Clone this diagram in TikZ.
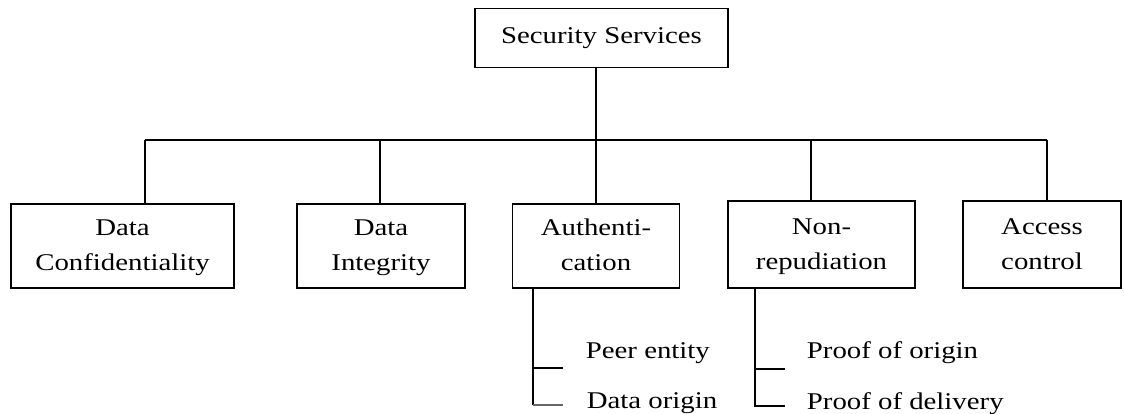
\documentclass[tikz,border=0pt]{standalone}
\usepackage{fontspec}
\setmainfont{Liberation Serif}[FakeStretch=1.2]
\begin{document}
\begin{tikzpicture}[x=1pt,y=-1pt,
  line width=1.8pt,
  every node/.style={font=\fontsize{24}{35}\selectfont, inner sep=0pt},
  svcbox/.style={draw, line width=1.8pt, align=center, minimum height=84pt},
  leaf/.style={anchor=base west}]
\useasboundingbox (0,0) rectangle (1124,414);

% root
\node[svcbox, minimum width=253pt, minimum height=59pt] (top) at (601.5,38) {Security Services};

% service boxes (struts keep the two text lines on the same baselines)
\node[svcbox, minimum width=223pt] (conf) at (122.5,246) {\strut Data\\\strut Confidentiality};
\node[svcbox, minimum width=168pt] (integ) at (381,246) {\strut Data\\\strut Integrity};
\node[svcbox, minimum width=167pt] (auth) at (596,246) {\strut Authenti-\\\strut cation};
\node[svcbox, minimum width=187pt, minimum height=87pt] (nonrep) at (821.5,244.5) {\strut Non-\\\strut repudiation};
\node[svcbox, minimum width=158pt, minimum height=87pt] (access) at (1042,244.5) {\strut Access\\\strut control};

% bus
\coordinate (busL) at (145,140);
\coordinate (busR) at (1047,140);
\draw (busL) -- (busR);
\draw (top.south -| auth.north) -- (auth.north);
\draw (busL) -- (busL |- conf.north);
\draw (380,140) -- (380,140 |- integ.north);
\draw (811,140) -- (811,140 |- nonrep.north);
\draw (busR) -- (busR |- access.north);

% authentication variants
\node[leaf] (peer) at (585,358) {Peer entity};
\node[leaf] (dorig) at (586,408) {Data origin};
\coordinate (a0) at (533,288);
\coordinate (a1) at (533,368);
\coordinate (a2) at (533,405);
\draw (a0) -- (a2);
\draw (a1) -- (563,368);
\draw[black!60, line width=1.2pt] (a2) -- (563,405);

% non-repudiation variants
\node[leaf] (porig) at (806,358) {Proof of origin};
\node[leaf] (pdel) at (806,409) {Proof of delivery};
\coordinate (n0) at (755,288);
\coordinate (n1) at (755,369);
\coordinate (n2) at (755,406);
\draw (n0) -- (n2) -- (785,406);
\draw (n1) -- (785,369);
\end{tikzpicture}
\end{document}
